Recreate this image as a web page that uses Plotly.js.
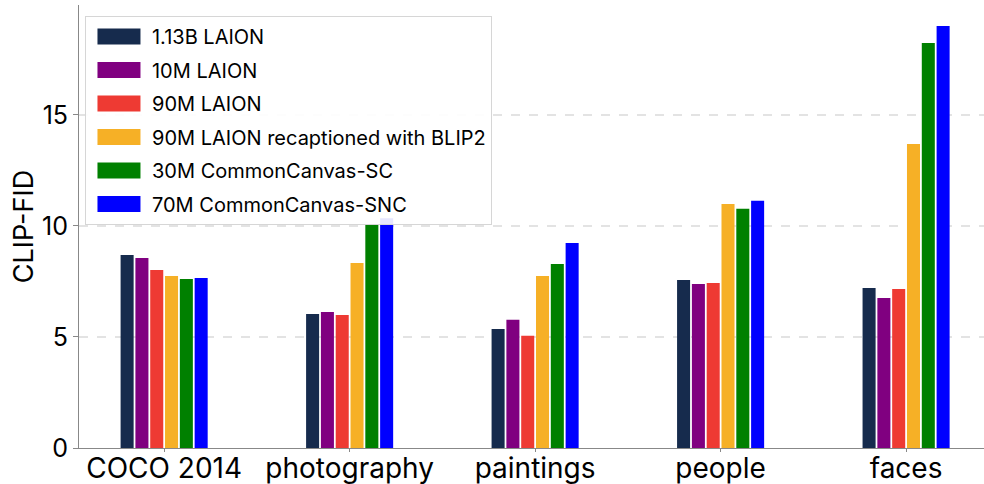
<!DOCTYPE html>
<html><head><meta charset="utf-8">
<script src="https://cdn.plot.ly/plotly-3.0.1.min.js"></script>
<style>html,body{margin:0;padding:0;background:#fff}#c{width:984px;height:484px}</style>
</head><body><div id="c"></div>
<script>
const categories = ["COCO 2014", "photography", "paintings", "people", "faces"];
const seriesNames = ["1.13B LAION", "10M LAION", "90M LAION", "90M LAION recaptioned with BLIP2", "30M CommonCanvas-SC", "70M CommonCanvas-SNC"];
const laion113B   = [8.69, 6.04, 5.36, 7.57, 7.21];
const laion10M    = [8.56, 6.13, 5.77, 7.39, 6.76];
const laion90M    = [8.02, 5.99, 5.05, 7.43, 7.16];
const laion90Mblip = [7.75, 8.33, 7.75, 10.99, 13.69];
const ccSC        = [7.61, 10.05, 8.29, 10.77, 18.24];
const ccSNC       = [7.66, 10.35, 9.23, 11.13, 19.0];
const yTicks = [0, 5, 10, 15];
const colors = ["#162B4D", "#800080", "#EE3A33", "#F6B026", "#008000", "#0000FF"];

const allSeries = [laion113B, laion10M, laion90M, laion90Mblip, ccSC, ccSNC];
const FONT = "Inter, 'Noto Sans', sans-serif";
const traces = allSeries.map((vals, i) => ({
  type: "bar",
  name: seriesNames[i],
  x: categories.map((c, k) => k),
  y: vals,
  marker: {color: colors[i], line: {width: 0}},
  legendgroup: "g" + i,
  hoverinfo: "y"
}));

const layout = {
  width: 984, height: 484,
  margin: {l: 79, r: 0, t: 5, b: 36},
  paper_bgcolor: "#fff", plot_bgcolor: "#fff",
  barmode: "group", bargap: 0.521, bargroupgap: 0.12,
  font: {family: FONT, color: "#000"},
  showlegend: true,
  legend: {
    x: 0.0066, y: 0.975, xanchor: "left", yanchor: "top",
    bgcolor: "rgba(255,255,255,0.9)", bordercolor: "#d6d6d6", borderwidth: 1,
    font: {size: 20, family: FONT, color: "#000"},
    tracegroupgap: 4.5, itemwidth: 56
  },
  xaxis: {
    range: [-0.459, 4.42],
    tickmode: "array", tickvals: categories.map((c, k) => k), ticktext: categories,
    tickfont: {size: 28, family: FONT},
    showline: true, linecolor: "#888", linewidth: 1,
    ticks: "outside", ticklen: 3, tickcolor: "#888", ticklabelstandoff: -8,
    showgrid: false, zeroline: false, automargin: false
  },
  yaxis: {
    range: [0, 19.95],
    tickmode: "array", tickvals: yTicks, ticktext: yTicks.map(String),
    tickfont: {size: 25, family: FONT},
    showline: true, linecolor: "#888", linewidth: 1,
    ticks: "outside", ticklen: 5, tickcolor: "#888",
    showgrid: true, gridcolor: "#e3e3e3", griddash: "dash", gridwidth: 1.2,
    zeroline: false, automargin: false,
    title: {text: "CLIP-FID", font: {size: 27, family: FONT}, standoff: 0}
  }
};
function widenSwatches(gd) {
  gd.querySelectorAll(".legend .legendpoints path").forEach(p => {
    p.setAttribute("d", "M-21.5,-8H21.5V8H-21.5Z");
  });
}
const gd = document.getElementById("c");
Plotly.newPlot(gd, traces, layout, {staticPlot: true, displayModeBar: false}).then(() => {
  widenSwatches(gd);
  gd.on("plotly_afterplot", () => widenSwatches(gd));
});
</script></body></html>
